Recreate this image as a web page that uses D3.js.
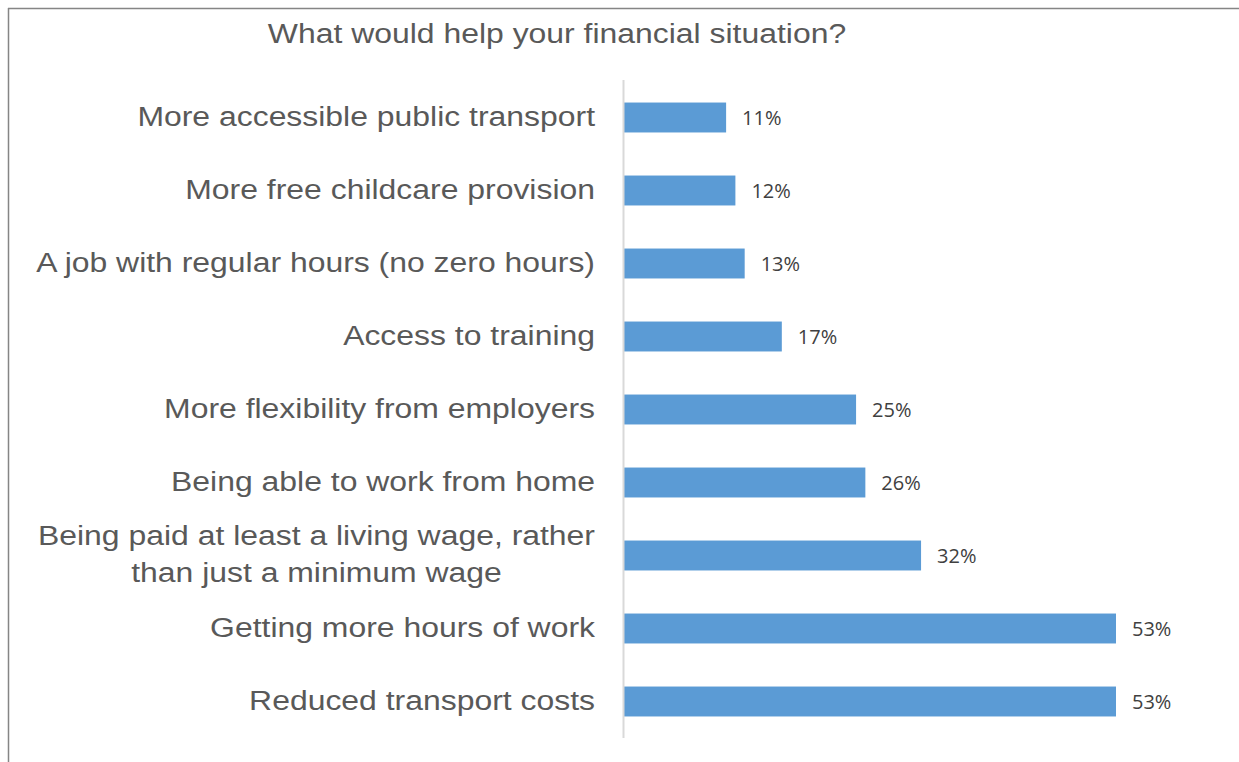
<!DOCTYPE html>
<html>
<head>
<meta charset="utf-8">
<script src="https://cdn.jsdelivr.net/npm/d3@7"></script>
<style>
  html, body { margin: 0; padding: 0; background: #ffffff; }
  svg { display: block; }
</style>
</head>
<body>
<svg id="chart" width="1239" height="762"></svg>
<script>
// Survey answers, listed top to bottom as shown
const categories = [
  "More accessible public transport",
  "More free childcare provision",
  "A job with regular hours (no zero hours)",
  "Access to training",
  "More flexibility from employers",
  "Being able to work from home",
  "Being paid at least a living wage, rather\nthan just a minimum wage",
  "Getting more hours of work",
  "Reduced transport costs"
];
const values = [11, 12, 13, 17, 25, 26, 32, 53, 53];
const titleText = "What would help your financial situation?";

const W = 1239, H = 762;
const svg = d3.select("#chart");

// Horizontal stretch applied to the Arial-style text
const SX = 1.14;
const FS = 28;
const textColor = "#595959";
const barColor = "#5b9bd5";

// Outer frame (top and left edges)
svg.append("line")
  .attr("x1", 8).attr("y1", 8.5).attr("x2", W).attr("y2", 8.5)
  .attr("stroke", "#858585").attr("stroke-width", 1.5);
svg.append("line")
  .attr("x1", 8.5).attr("y1", 8).attr("x2", 8.5).attr("y2", H)
  .attr("stroke", "#858585").attr("stroke-width", 1.5);

// Title
svg.append("text")
  .attr("transform", `translate(557,43) scale(${SX},1)`)
  .attr("text-anchor", "middle")
  .attr("font-family", "'Liberation Sans', Arial, sans-serif")
  .attr("font-size", FS)
  .attr("fill", textColor)
  .text(titleText);

// Scales
const x0 = 624;
const x = d3.scaleLinear().domain([0, 53]).range([x0, 1116]);
const y = d3.scaleBand()
  .domain(categories)
  .range([81, 738])
  .paddingInner(0.59)
  .paddingOuter(0.295);

// Bars
svg.append("g")
  .selectAll("rect")
  .data(categories)
  .join("rect")
  .attr("x", x(0))
  .attr("y", d => y(d))
  .attr("width", (d, i) => x(values[i]) - x(0))
  .attr("height", y.bandwidth())
  .attr("fill", barColor);

// Vertical category axis line
svg.append("line")
  .attr("x1", x0 - 0.5).attr("x2", x0 - 0.5)
  .attr("y1", 80).attr("y2", 738)
  .attr("stroke", "#d9d9d9").attr("stroke-width", 2);

// Category labels: block right-aligned at the axis gap, lines centred within the block
const lineGap = 37;
const labels = svg.append("g")
  .selectAll("text")
  .data(categories)
  .join("text")
  .attr("transform", d => {
    const cy = y(d) + y.bandwidth() / 2;
    return `translate(595,${cy + 8}) scale(${SX},1)`;
  })
  .attr("text-anchor", "middle")
  .attr("font-family", "'Liberation Sans', Arial, sans-serif")
  .attr("font-size", FS)
  .attr("fill", textColor);

labels.each(function(d) {
  const lines = d.split("\n");
  const start = -(lines.length - 1) * lineGap / 2;
  const spans = d3.select(this).selectAll("tspan")
    .data(lines)
    .join("tspan")
    .attr("y", (l, k) => start + k * lineGap)
    .text(l => l);
  let maxW = 0;
  spans.each(function() { maxW = Math.max(maxW, this.getComputedTextLength()); });
  spans.attr("x", -maxW / 2);
});

// Value labels
svg.append("g")
  .selectAll("text")
  .data(categories)
  .join("text")
  .attr("x", (d, i) => x(values[i]) + 16)
  .attr("y", d => y(d) + y.bandwidth() / 2 + 7.5)
  .attr("font-family", "'Open Sans', 'Noto Sans', sans-serif")
  .attr("font-size", 20)
  .attr("fill", "#404040")
  .text((d, i) => values[i] + "%");
</script>
</body>
</html>
